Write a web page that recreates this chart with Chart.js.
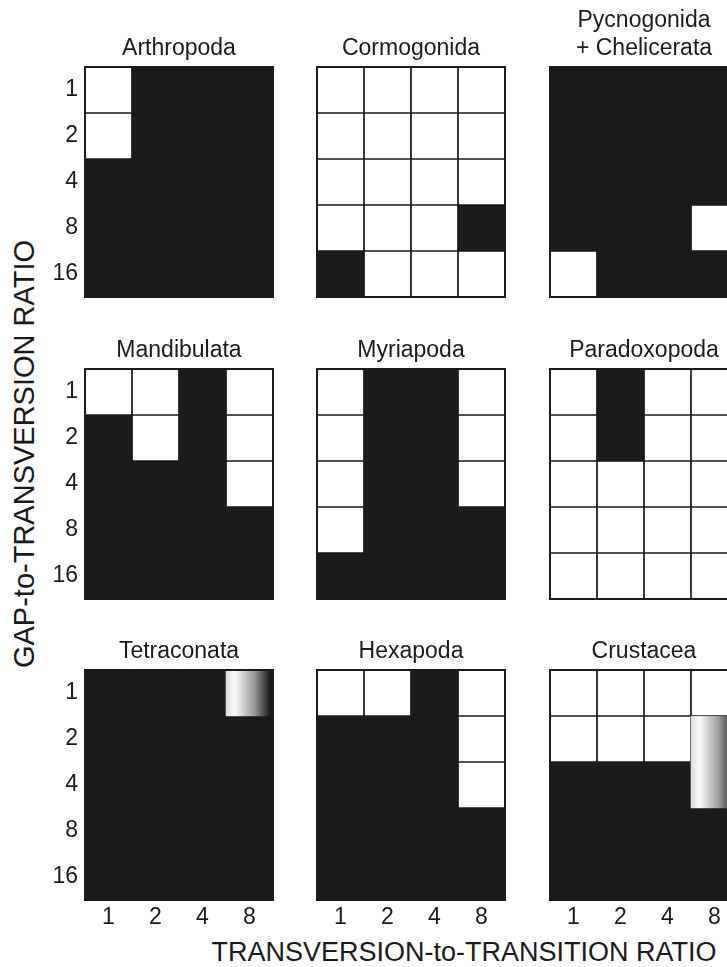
<!DOCTYPE html>
<html>
<head>
<meta charset="utf-8">
<script src="https://cdn.jsdelivr.net/npm/chart.js@4/dist/chart.umd.min.js"></script>
<style>
  html, body { margin: 0; padding: 0; background: #fff; }
  #figure { position: relative; width: 727px; height: 967px; overflow: hidden; background: #fff; }
  #figure canvas { position: absolute; }
  .axis-label {
    position: absolute;
    font-family: "Liberation Sans", Arial, sans-serif;
    color: #1a1a1a;
    white-space: nowrap;
  }
  #xLabel { font-size: 27px; left: 464px; top: 952px; transform: translate(-50%, -50%); }
  #yLabel { font-size: 29px; left: 24px; top: 454px; transform: translate(-50%, -50%) rotate(-90deg); }
</style>
</head>
<body>
<div id="figure">
  <div id="xLabel" class="axis-label">TRANSVERSION-to-TRANSITION RATIO</div>
  <div id="yLabel" class="axis-label">GAP-to-TRANSVERSION RATIO</div>
</div>

<script>
// tick labels
const tvRatios = ["1", "2", "4", "8"];          // transversion-to-transition (columns)
const gapRatios = ["1", "2", "4", "8", "16"];   // gap-to-transversion (rows)

// cell states per row (1,2,4,8,16), columns (1,2,4,8): 0 = white, 1 = black, 2 = shaded
const arthropoda   = [[0,1,1,1],[0,1,1,1],[1,1,1,1],[1,1,1,1],[1,1,1,1]];
const cormogonida  = [[0,0,0,0],[0,0,0,0],[0,0,0,0],[0,0,0,1],[1,0,0,0]];
const pycnoChelic  = [[1,1,1,1],[1,1,1,1],[1,1,1,1],[1,1,1,0],[0,1,1,1]];
const mandibulata  = [[0,0,1,0],[1,0,1,0],[1,1,1,0],[1,1,1,1],[1,1,1,1]];
const myriapoda    = [[0,1,1,0],[0,1,1,0],[0,1,1,0],[0,1,1,1],[1,1,1,1]];
const paradoxopoda = [[0,1,0,0],[0,1,0,0],[0,0,0,0],[0,0,0,0],[0,0,0,0]];
const tetraconata  = [[1,1,1,2],[1,1,1,1],[1,1,1,1],[1,1,1,1],[1,1,1,1]];
const hexapoda     = [[0,0,1,0],[1,1,1,0],[1,1,1,0],[1,1,1,1],[1,1,1,1]];
const crustacea    = [[0,0,0,0],[0,0,0,2],[1,1,1,2],[1,1,1,1],[1,1,1,1]];

const panelTitles = [
  ["Arthropoda", "Cormogonida", ["Pycnogonida", "+ Chelicerata"]],
  ["Mandibulata", "Myriapoda", "Paradoxopoda"],
  ["Tetraconata", "Hexapoda", "Crustacea"]
];
const panelCells = [
  [arthropoda, cormogonida, pycnoChelic],
  [mandibulata, myriapoda, paradoxopoda],
  [tetraconata, hexapoda, crustacea]
];

/* layout */
const colLeft = [85, 317, 550];
const rowTop = [67, 369, 670];
const PANEL_W = 188, PANEL_H = 230;
const Y_AXIS_W = 60, TITLE_H = 80, X_AXIS_H = 44, PAD_R = 4;
const INK = "#1b1b1b";
const FONT = "'Liberation Sans', Arial, sans-serif";

const panelFrame = {
  id: "panelFrame",
  afterDatasetsDraw(chart) {
    const a = chart.chartArea;
    const ctx = chart.ctx;
    ctx.save();
    ctx.strokeStyle = INK;
    ctx.lineWidth = 2;
    ctx.strokeRect(a.left, a.top, a.right - a.left, a.bottom - a.top);
    ctx.restore();
  }
};

function cellColor(chart, code, col) {
  if (code === 0) return "#ffffff";
  if (code === 1) return INK;
  // shaded cell: light on the left, dark on the right
  const xs = chart.scales.x;
  const half = (xs.getPixelForValue(1) - xs.getPixelForValue(0)) / 2;
  const cx = xs.getPixelForValue(col);
  const g = chart.ctx.createLinearGradient(cx - half, 0, cx + half, 0);
  g.addColorStop(0, "#dcdcdc");
  g.addColorStop(0.18, "#fbfbfb");
  g.addColorStop(0.6, "#9a9a9a");
  g.addColorStop(0.93, "#1e1e1e");
  g.addColorStop(1, "#141414");
  return g;
}

function drawPanel(row, col) {
  const cells = panelCells[row][col];
  const title = panelTitles[row][col];
  const twoLines = Array.isArray(title);
  const lineH = 23 * 1.2;
  const padBottom = 4.7;
  const padTop = TITLE_H - padBottom - (twoLines ? 2 : 1) * lineH;

  const canvas = document.createElement("canvas");
  const w = Y_AXIS_W + PANEL_W + PAD_R;
  const h = TITLE_H + PANEL_H + X_AXIS_H;
  canvas.width = w;
  canvas.height = h;
  canvas.style.width = w + "px";
  canvas.style.height = h + "px";
  canvas.style.left = (colLeft[col] - Y_AXIS_W) + "px";
  canvas.style.top = (rowTop[row] - TITLE_H) + "px";
  document.getElementById("figure").appendChild(canvas);

  const datasets = gapRatios.map((g, r) => ({
    label: g,
    data: tvRatios.map(() => [r, r + 1]),
    grouped: false,
    barPercentage: 1,
    categoryPercentage: 1,
    borderSkipped: false,
    borderColor: INK,
    borderWidth: c => (cells[r][c.dataIndex] === 2 ? 0 : 1.2),
    backgroundColor: c => cellColor(c.chart, cells[r][c.dataIndex], c.dataIndex)
  }));

  new Chart(canvas.getContext("2d"), {
    type: "bar",
    data: { labels: tvRatios, datasets: datasets },
    options: {
      responsive: false,
      animation: false,
      devicePixelRatio: window.devicePixelRatio || 1,
      layout: { padding: { left: 0, right: PAD_R, top: 0, bottom: 0 } },
      plugins: {
        legend: { display: false },
        tooltip: { enabled: false },
        title: {
          display: true,
          fullSize: false,
          align: "center",
          text: title,
          color: INK,
          font: { family: FONT, size: 23, weight: "normal", lineHeight: 1.2 },
          padding: { top: padTop, bottom: padBottom }
        }
      },
      scales: {
        x: {
          type: "category",
          offset: true,
          grid: { display: false, drawTicks: false },
          border: { display: false },
          ticks: {
            display: row === 2,
            color: INK,
            padding: 4,
            maxRotation: 0,
            font: { family: FONT, size: 23 }
          },
          afterFit: s => { s.height = X_AXIS_H; }
        },
        y: {
          type: "linear",
          min: 0,
          max: gapRatios.length,
          reverse: true,
          grid: { display: false, drawTicks: false },
          border: { display: false },
          afterBuildTicks: s => {
            s.ticks = gapRatios.map((g, i) => ({ value: i + 0.5 }));
          },
          ticks: {
            display: col === 0,
            color: INK,
            padding: 7,
            font: { family: FONT, size: 23 },
            callback: (v, i) => gapRatios[i]
          },
          afterFit: s => { s.width = Y_AXIS_W; }
        }
      }
    },
    plugins: [panelFrame]
  });
}

for (let r = 0; r < 3; r++) {
  for (let c = 0; c < 3; c++) {
    drawPanel(r, c);
  }
}
</script>
</body>
</html>
